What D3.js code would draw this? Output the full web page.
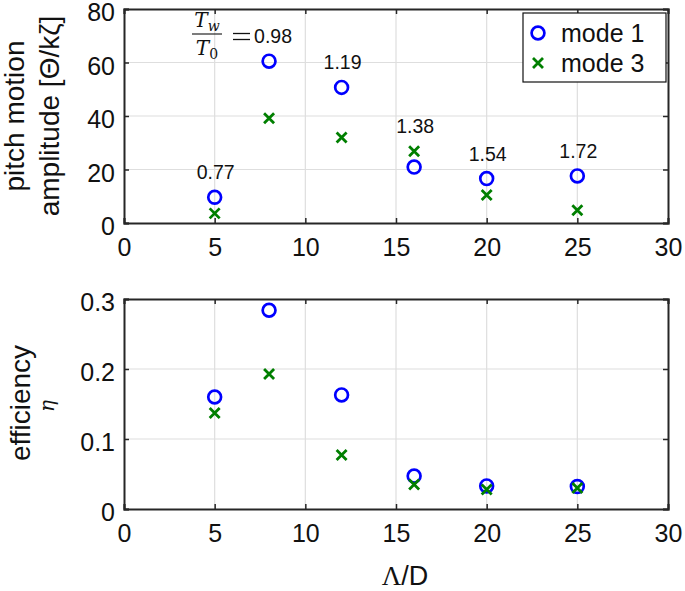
<!DOCTYPE html>
<html><head><meta charset="utf-8">
<script src="https://cdn.jsdelivr.net/npm/d3@7"></script>
<style>body{margin:0;background:#fff}svg{display:block}</style>
</head><body><svg id="c" width="685" height="591"></svg>
<script>
const lambdaD = [5, 8, 12, 16, 20, 25];
const pitchMode1 = [9.6, 60.5, 50.7, 20.9, 16.6, 17.6];
const pitchMode3 = [3.6, 39.2, 32.0, 26.8, 10.5, 4.8];
const effMode1 = [0.160, 0.284, 0.163, 0.047, 0.033, 0.032];
const effMode3 = [0.137, 0.193, 0.077, 0.035, 0.028, 0.030];
const periodRatio = ["0.77", "0.98", "1.19", "1.38", "1.54", "1.72"];
const xTicks = [0, 5, 10, 15, 20, 25, 30];
const pitchTicks = [0, 20, 40, 60, 80];
const effTicks = [0, 0.1, 0.2, 0.3];
const legendLabels = ["mode 1", "mode 3"];

const svg = d3.select("#c");
const FONT = "'Liberation Sans', Arial, Helvetica, sans-serif";
const SERIF = "'DejaVu Serif', 'Liberation Serif', serif";
const AX = "#262626";
const BLUE = "#0000ff", GREEN = "#007f00";
const TICKFS = 25, LABFS = 28;

const left = 124, right = 668;
const x = d3.scaleLinear().domain([0, 30]).range([left, right]);

function panel(top, bottom, domain, ticks, fmt) {
  const y = d3.scaleLinear().domain(domain).range([bottom, top]);
  const g = svg.append("g");
  g.append("g").selectAll("line").data(xTicks.slice(1, -1)).join("line")
    .attr("x1", d => x(d)).attr("x2", d => x(d)).attr("y1", top).attr("y2", bottom)
    .attr("stroke", "#dedede").attr("stroke-width", 1.2);
  g.append("g").selectAll("line").data(ticks.slice(1, -1)).join("line")
    .attr("x1", left).attr("x2", right).attr("y1", d => y(d)).attr("y2", d => y(d))
    .attr("stroke", "#dedede").attr("stroke-width", 1.2);
  const ax = g.append("g").attr("transform", `translate(0,${bottom})`)
    .call(d3.axisBottom(x).tickValues(xTicks).tickSize(-5).tickPadding(15).tickFormat(d3.format("d")));
  const ay = g.append("g").attr("transform", `translate(${left},0)`)
    .call(d3.axisLeft(y).tickValues(ticks).tickSize(-5).tickPadding(9).tickFormat(fmt));
  const axT = g.append("g").attr("transform", `translate(0,${top})`)
    .call(d3.axisTop(x).tickValues(xTicks).tickSize(-5).tickFormat(""));
  const ayR = g.append("g").attr("transform", `translate(${right},0)`)
    .call(d3.axisRight(y).tickValues(ticks).tickSize(-5).tickFormat(""));
  [ax, ay, axT, ayR].forEach(a => {
    a.select(".domain").attr("stroke", AX).attr("stroke-width", 2);
    a.selectAll(".tick line").attr("stroke", AX).attr("stroke-width", 1.5);
    a.selectAll("text").attr("font-family", FONT).attr("font-size", TICKFS).attr("fill", "#111");
  });
  ax.selectAll("text").attr("dy", "0.71em");
  ay.selectAll("text").attr("y", 3.5);
  return y;
}

function circles(y, vals) {
  svg.append("g").selectAll("circle").data(lambdaD).join("circle")
    .attr("cx", d => x(d)).attr("cy", (d, i) => y(vals[i])).attr("r", 6.4)
    .attr("fill", "none").attr("stroke", BLUE).attr("stroke-width", 2.7);
}
function crosses(y, vals) {
  const s = 5;
  svg.append("g").selectAll("path").data(lambdaD).join("path")
    .attr("d", (d, i) => {
      const cx = x(d), cy = y(vals[i]);
      return `M${cx - s},${cy - s}L${cx + s},${cy + s}M${cx - s},${cy + s}L${cx + s},${cy - s}`;
    })
    .attr("stroke", GREEN).attr("stroke-width", 2.8).attr("fill", "none");
}

// top panel
const y1 = panel(9, 223, [0, 80], pitchTicks, d3.format("d"));
circles(y1, pitchMode1);
crosses(y1, pitchMode3);

// period ratio annotations
svg.append("g").selectAll("text").data(lambdaD).join("text")
  .attr("x", (d, i) => x(d) + (i === 1 ? 4 : 1))
  .attr("y", (d, i) => y1(Math.max(pitchMode1[i], pitchMode3[i])) - 18)
  .attr("text-anchor", "middle").attr("font-family", FONT).attr("font-size", 19.5).attr("fill", "#111")
  .text((d, i) => periodRatio[i]);

// fraction T_w / T_0 =
const fr = svg.append("g").attr("font-family", SERIF).attr("fill", "#111");
const fx = 207;
const num = fr.append("text").attr("x", fx).attr("y", 27).attr("text-anchor", "middle").attr("font-size", 20).attr("font-style", "italic");
num.append("tspan").text("T");
num.append("tspan").attr("font-size", 14).attr("dy", 4).text("w");
fr.append("line").attr("x1", 192).attr("x2", 222).attr("y1", 34).attr("y2", 34).attr("stroke", "#111").attr("stroke-width", 1.1);
const den = fr.append("text").attr("x", fx).attr("y", 55).attr("text-anchor", "middle").attr("font-size", 20).attr("font-style", "italic");
den.append("tspan").text("T");
den.append("tspan").attr("font-size", 14).attr("dy", 4).attr("font-style", "normal").text("0");
fr.append("line").attr("x1", 233).attr("x2", 250).attr("y1", 33.5).attr("y2", 33.5).attr("stroke", "#111").attr("stroke-width", 1.3);
fr.append("line").attr("x1", 233).attr("x2", 250).attr("y1", 39.5).attr("y2", 39.5).attr("stroke", "#111").attr("stroke-width", 1.3);

// legend
const lg = svg.append("g");
lg.append("rect").attr("x", 523).attr("y", 13).attr("width", 143).attr("height", 69)
  .attr("fill", "#fff").attr("stroke", "#111").attr("stroke-width", 1.2);
lg.append("circle").attr("cx", 538).attr("cy", 33).attr("r", 6.4).attr("fill", "none").attr("stroke", BLUE).attr("stroke-width", 2.7);
lg.append("path").attr("d", "M533,58L543,68M533,68L543,58").attr("stroke", GREEN).attr("stroke-width", 2.8);
lg.selectAll("text").data(legendLabels).join("text")
  .attr("x", 561).attr("y", (d, i) => 42 + i * 30)
  .attr("font-family", FONT).attr("font-size", TICKFS).attr("fill", "#111").text(d => d);

// top y label
const yl1 = svg.append("text").attr("transform", "translate(0,116) rotate(-90)")
  .attr("text-anchor", "middle").attr("font-family", FONT).attr("font-size", LABFS).attr("fill", "#111");
yl1.append("tspan").attr("x", 0).attr("y", 24).text("pitch motion");
yl1.append("tspan").attr("x", 0).attr("y", 59).text("amplitude [Θ/kζ]");

// bottom panel
const y2 = panel(299, 509, [0, 0.3], effTicks, d => d === 0 ? "0" : d3.format(".1f")(d));
circles(y2, effMode1);
crosses(y2, effMode3);

const yl2 = svg.append("g").attr("transform", "translate(0,403) rotate(-90)");
yl2.append("text").attr("x", 0).attr("y", 30).attr("text-anchor", "middle")
  .attr("font-family", FONT).attr("font-size", LABFS).attr("fill", "#111").text("efficiency");
yl2.append("text").attr("x", -3).attr("y", 54).attr("text-anchor", "middle")
  .attr("font-family", SERIF).attr("font-style", "italic")
  .attr("font-size", 20).attr("fill", "#111").text("η");

// x label
svg.append("text").attr("x", 405).attr("y", 585).attr("text-anchor", "middle")
  .attr("font-family", FONT).attr("font-size", 27).attr("fill", "#111")
  .html("<tspan font-family=\"'Liberation Serif', serif\">Λ</tspan>/D");
</script></body></html>
